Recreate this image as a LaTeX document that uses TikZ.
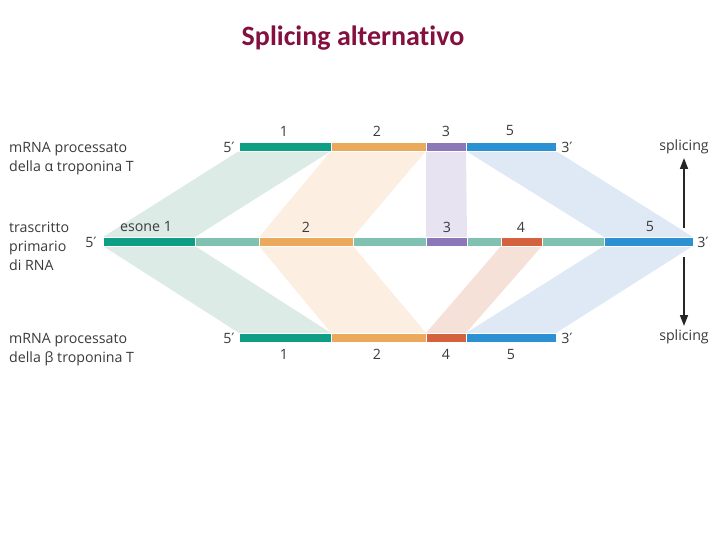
\documentclass[tikz,border=0pt]{standalone}
\usepackage{fontspec}
\setmainfont{Open Sans}
\newfontfamily\titlefont[Ligatures={NoCommon}]{Carlito}
\newfontfamily\dejavu{DejaVu Sans}
\usetikzlibrary{arrows.meta}
\definecolor{exA}{HTML}{0E9E83}
\definecolor{intr}{HTML}{80C1B1}
\definecolor{exB}{HTML}{EBA95B}
\definecolor{exC}{HTML}{8C78B8}
\definecolor{exD}{HTML}{D4623F}
\definecolor{exE}{HTML}{2B91D3}
\definecolor{bandA}{HTML}{DCEBE6}
\definecolor{bandB}{HTML}{FCEFE2}
\definecolor{bandC}{HTML}{E7E3F0}
\definecolor{bandD}{HTML}{F6E1D8}
\definecolor{bandE}{HTML}{DFE9F6}
\definecolor{titlecol}{HTML}{84103F}
\definecolor{txt}{HTML}{3A3A3A}
\newcommand{\prm}{{\dejavu\char"2032}}
\tikzset{
  lbl/.style={text=txt, font=\fontsize{14.2}{19}\selectfont, inner sep=0pt},
  seg/.style={draw=white, line width=0.6pt},
  splarrow/.style={-{Triangle[length=11pt,width=8pt]}, line width=1.6pt, draw=black!85},
}
\begin{document}
\begin{tikzpicture}[x=1pt,y=-1pt]
\useasboundingbox (0,0) rectangle (720,540);
% title
\node[text=titlecol, font=\titlefont\bfseries\fontsize{28}{32}\selectfont] (title) at (353,38) {Splicing alternativo};
% bands top
\fill[bandA] (239,151) -- (331,151) -- (195,237) -- (103,237) -- cycle;
\fill[bandB] (331,151) -- (426,151) -- (353,237) -- (259,237) -- cycle;
\fill[bandC] (426,151) -- (466,151) -- (467,237) -- (426,237) -- cycle;
\fill[bandE] (466,151) -- (556,151) -- (693,237) -- (604,237) -- cycle;
% bands bottom
\fill[bandA] (103,246) -- (195,246) -- (331,333) -- (239,333) -- cycle;
\fill[bandB] (259,246) -- (353,246) -- (426,333) -- (331,333) -- cycle;
\fill[bandD] (501,246) -- (542,246) -- (466,333) -- (426,333) -- cycle;
\fill[bandE] (604,246) -- (693,246) -- (556,333) -- (466,333) -- cycle;
% top bar
\filldraw[seg, fill=exA] (239,142) rectangle (331,151);
\filldraw[seg, fill=exB] (331,142) rectangle (426,151);
\filldraw[seg, fill=exC] (426,142) rectangle (466,151);
\filldraw[seg, fill=exE] (466,142) rectangle (556,151);
% middle bar
\filldraw[seg, fill=exA] (103,237) rectangle (195,246);
\filldraw[seg, fill=intr] (195,237) rectangle (259,246);
\filldraw[seg, fill=exB] (259,237) rectangle (353,246);
\filldraw[seg, fill=intr] (353,237) rectangle (426,246);
\filldraw[seg, fill=exC] (426,237) rectangle (467,246);
\filldraw[seg, fill=intr] (467,237) rectangle (501,246);
\filldraw[seg, fill=exD] (501,237) rectangle (542,246);
\filldraw[seg, fill=intr] (542,237) rectangle (604,246);
\filldraw[seg, fill=exE] (604,237) rectangle (693,246);
% bottom bar
\filldraw[seg, fill=exA] (239,333) rectangle (331,342);
\filldraw[seg, fill=exB] (331,333) rectangle (426,342);
\filldraw[seg, fill=exD] (426,333) rectangle (466,342);
\filldraw[seg, fill=exE] (466,333) rectangle (556,342);
% left labels
\node[lbl, anchor=west, align=left] (la) at (9,158.5) {mRNA processato\\della α troponina T};
\node[lbl, anchor=west, align=left] (lb) at (9,246) {trascritto\\primario\\di RNA};
\node[lbl, anchor=west, align=left] (lc) at (9,350) {mRNA processato\\della β troponina T};
% ends
\node[lbl] (t5) at (229,147) {5\prm};
\node[lbl] (t3) at (567,147) {3\prm};
\node[lbl] (m5) at (91,242) {5\prm};
\node[lbl] (m3) at (703,242) {3\prm};
\node[lbl] (b5) at (229,338) {5\prm};
\node[lbl] (b3) at (567,338) {3\prm};
% exon numbers top
\node[lbl] (n1) at (284,131) {1};
\node[lbl] (n2) at (377,131) {2};
\node[lbl] (n3) at (446,131) {3};
\node[lbl] (n5) at (510,131) {5};
% middle
\node[lbl] (e1) at (146,227) {esone 1};
\node[lbl] (e2) at (306,227) {2};
\node[lbl] (e3) at (447,227) {3};
\node[lbl] (e4) at (521,227) {4};
\node[lbl] (e5) at (650,227) {5};
% bottom
\node[lbl] (b1) at (284,354) {1};
\node[lbl] (b2) at (377,354) {2};
\node[lbl] (b4) at (446,354) {4};
\node[lbl] (bb5) at (511,354) {5};
% splicing
\node[lbl] (sp1) at (684,147) {splicing};
\node[lbl] (sp2) at (684,337) {splicing};
\coordinate (a1) at (684,228);
\coordinate (a2) at (684,257);
\draw[splarrow] (a1) -- (684,158);
\draw[splarrow] (a2) -- (684,326);
\end{tikzpicture}
\end{document}
